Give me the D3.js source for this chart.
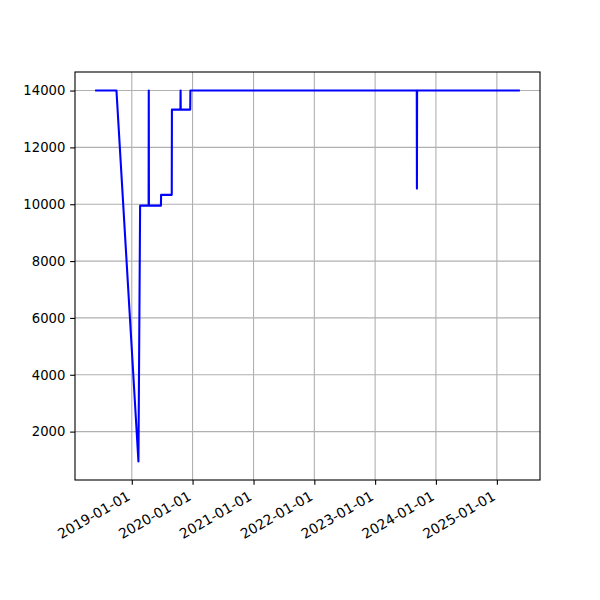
<!DOCTYPE html>
<html><head><meta charset="utf-8">
<script src="https://cdn.jsdelivr.net/npm/d3@7"></script>
<style>body{margin:0;background:#fff}svg{display:block}text{font-family:"DejaVu Sans",sans-serif}</style>
</head><body>
<script>
const dates = ["2018-06-01","2018-10-01","2019-02-10","2019-02-20","2019-04-12","2019-04-13","2019-04-14","2019-06-25","2019-06-26","2019-08-29","2019-08-30","2019-10-20","2019-10-21","2019-10-22","2019-12-18","2019-12-19","2023-09-08","2023-09-09","2023-09-10","2025-05-13"];
const values = [14000,14000,950,9950,9950,14000,9950,9950,10330,10330,13330,13330,14000,13330,13330,14000,14000,10550,14000,14000];
const xTickLabels = ["2019-01-01","2020-01-01","2021-01-01","2022-01-01","2023-01-01","2024-01-01","2025-01-01"];
const yTicks = [2000,4000,6000,8000,10000,12000,14000];

const W=600,H=600,L=75,R=540,T=72,B=480;
const parse=d3.utcParse("%Y-%m-%d");
const data=dates.map((d,i)=>({x:parse(d),y:values[i]}));
const xe=d3.extent(data,d=>+d.x), ye=d3.extent(data,d=>d.y);
const xm=(xe[1]-xe[0])*0.05, ym=(ye[1]-ye[0])*0.05;
const x=d3.scaleUtc().domain([new Date(xe[0]-xm),new Date(xe[1]+xm)]).range([L,R]);
const y=d3.scaleLinear().domain([ye[0]-ym,ye[1]+ym]).range([B,T]);

const svg=d3.select("body").append("svg").attr("width",W).attr("height",H);
const xt=xTickLabels.map(parse);
// grid
svg.append("g").selectAll("line").data(xt).join("line")
  .attr("x1",d=>x(d)).attr("x2",d=>x(d)).attr("y1",T).attr("y2",B)
  .attr("stroke","#b0b0b0").attr("stroke-width",1.1);
svg.append("g").selectAll("line").data(yTicks).join("line")
  .attr("y1",d=>y(d)).attr("y2",d=>y(d)).attr("x1",L).attr("x2",R)
  .attr("stroke","#b0b0b0").attr("stroke-width",1.1);
// line
svg.append("path").datum(data)
  .attr("d",d3.line().x(d=>x(d.x)).y(d=>y(d.y)))
  .attr("fill","none").attr("stroke","#0000ff").attr("stroke-width",2.08)
  .attr("stroke-linejoin","round").attr("stroke-linecap","square");
// frame
svg.append("rect").attr("x",L).attr("y",T).attr("width",R-L).attr("height",B-T)
  .attr("fill","none").attr("stroke","#000").attr("stroke-width",1.1);
// x axis
const xa=d3.axisBottom(x).tickValues(xt).tickSize(4.86).tickFormat(d3.utcFormat("%Y-%m-%d"));
const gx=svg.append("g").attr("transform",`translate(0,${B})`).call(xa);
gx.select(".domain").remove();
gx.selectAll(".tick line").attr("stroke","#000").attr("stroke-width",1.1);
gx.selectAll(".tick text").attr("font-size","13.9px").attr("fill","#000")
  .attr("text-anchor","end").attr("x",-1).attr("y",19).attr("dy",null)
  .attr("transform","rotate(-30,-1,19)");
// y axis
const ya=d3.axisLeft(y).tickValues(yTicks).tickSize(4.86).tickFormat(d3.format("d"));
const gy=svg.append("g").attr("transform",`translate(${L},0)`).call(ya);
gy.select(".domain").remove();
gy.selectAll(".tick line").attr("stroke","#000").attr("stroke-width",1.1);
gy.selectAll(".tick text").attr("font-size","13.2px").attr("fill","#000").attr("x",-9.7);
</script>
</body></html>
